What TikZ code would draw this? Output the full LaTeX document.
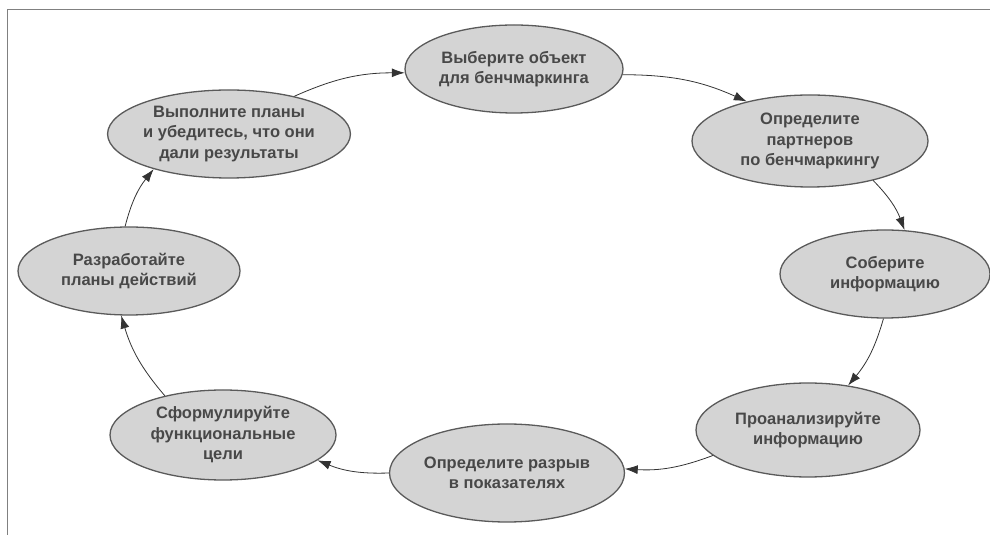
\documentclass[tikz,border=0pt]{standalone}
\usepackage{fontspec}
\setmainfont{Liberation Sans}
\usetikzlibrary{shapes.geometric,arrows.meta}
\definecolor{ellfill}{HTML}{D4D4D4}
\definecolor{ellline}{HTML}{5A5A5A}
\definecolor{txt}{HTML}{484848}
\tikzset{
  stage/.style={ellipse, draw=ellline, line width=1.3pt, fill=ellfill, inner sep=0pt,
    text=txt, align=center, font=\bfseries\fontsize{16.5}{20.5}\selectfont},
  flow/.style={draw=black!80, line width=0.8pt, -{Latex[length=13pt,width=9pt]}, bend left=12}
}
\begin{document}
\begin{tikzpicture}[x=1pt,y=1pt]
\useasboundingbox (0,0) rectangle (990,535);
\draw[gray, line width=1pt] (7,0) -- (7,525) -- (990,525);
\node[stage, minimum width=218pt, minimum height=88pt] (n1) at (514,466) {Выберите объект\\для бенчмаркинга};
\node[stage, minimum width=236pt, minimum height=92pt] (n2) at (810,394) {Определите\\партнеров\\по бенчмаркингу};
\node[stage, minimum width=210pt, minimum height=88pt] (n3) at (885,261) {Соберите\\информацию};
\node[stage, minimum width=224pt, minimum height=94pt] (n4) at (808,105) {Проанализируйте\\информацию};
\node[stage, minimum width=224pt, minimum height=98pt] (n5) at (507,62) {Определите разрыв\\в показателях};
\node[stage, minimum width=226pt, minimum height=90pt] (n6) at (223,100) {Сформулируйте\\функциональные\\цели};
\node[stage, minimum width=222pt, minimum height=88pt] (n7) at (129,264) {Разработайте\\планы действий};
\node[stage, minimum width=232pt, minimum height=88pt] (n8) at (229,401) {Выполните планы\\и убедитесь, что они\\дали результаты};
\draw[flow] (n8.30) to (n1.182);
\draw[flow] (n1.-3) to (n2.148);
\draw[flow] (n2.-32) to (n3.66);
\draw[flow] (n3.-92) to (n4.48);
\draw[flow] (n4.-165) to (n5.2);
\draw[flow] (n5.180) to (n6.-15);
\draw[flow] (n6.146) to (n7.-100);
\draw[flow] (n7.95) to (n8.205);
\end{tikzpicture}
\end{document}
